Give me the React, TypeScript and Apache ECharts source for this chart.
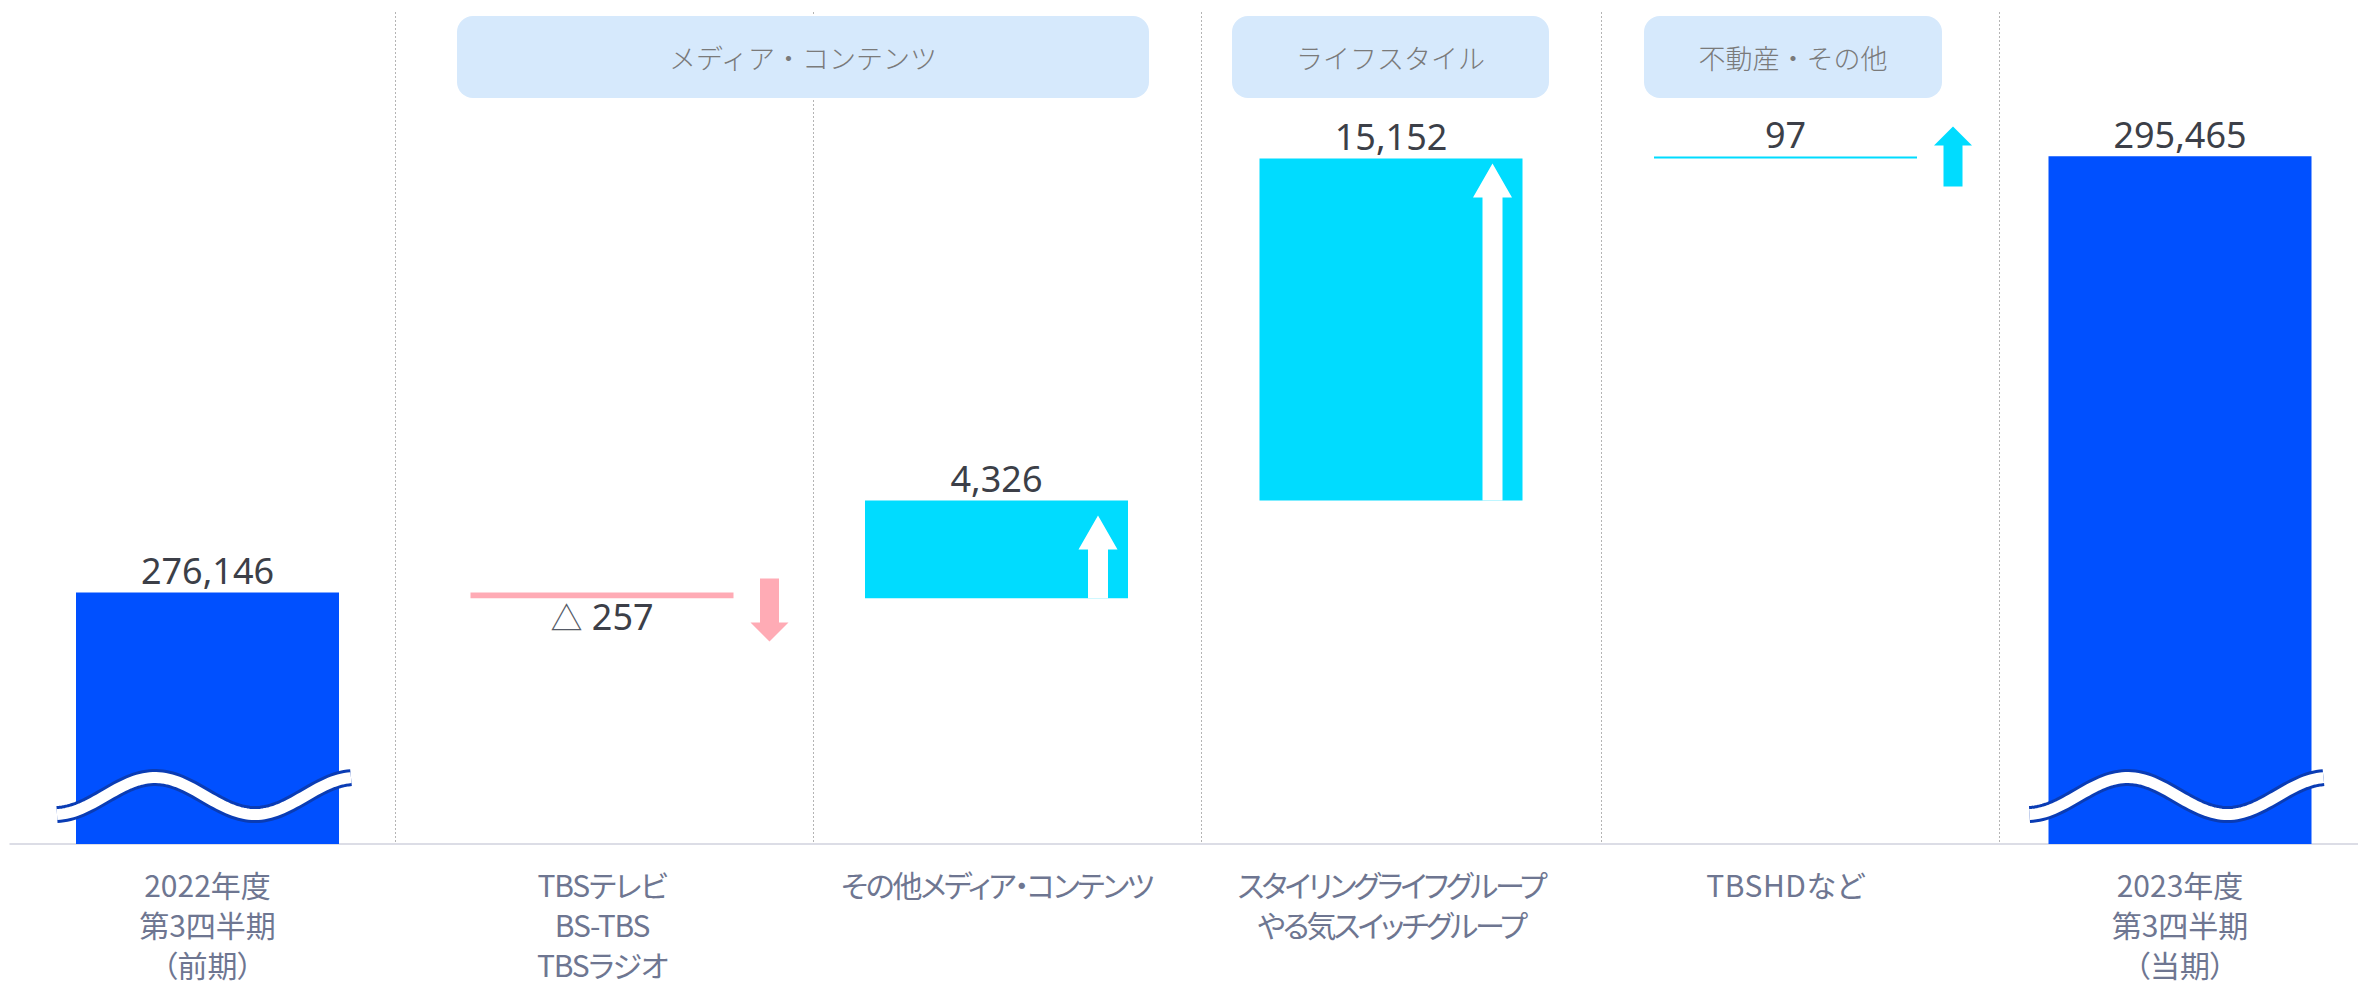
import React, { useEffect, useRef } from 'react';
import * as echarts from 'echarts';

// ---- data ----
const categories = [
  '2022年度\n第3四半期\n（前期）',
  'TBSテレビ\nBS-TBS\nTBSラジオ',
  'その他メディア・コンテンツ',
  'スタイリングライフグループ\nやる気スイッチグループ',
  'TBSHDなど',
  '2023年度\n第3四半期\n（当期）',
];
const totals: (number | null)[] = [276146, null, null, null, null, 295465];
const changes: (number | null)[] = [null, -257, 4326, 15152, 97, null];
const groupHeaders = ['メディア・コンテンツ', 'ライフスタイル', '不動産・その他'];

const Y_MIN = 265000;
const Y_MAX = 300000;

// ---- styles ----
const BAR_W = 263;
const BLUE = '#0050ff';
const CYAN = '#00dcff';
const PINK = '#ffabb5';
const WAVE_EDGE = '#0a3cb4';
const GRID_TOP = 54;
const GRID_H = 790;
const AXIS_Y = GRID_TOP + GRID_H;
const SEP_X = [395.5, 813.5, 1201.5, 1601.5, 1999.5];
const HEADER_BOXES = [
  { x: 457, w: 692 },
  { x: 1232, w: 317 },
  { x: 1644, w: 298 },
];
// per-category letter spacing (px) applied to the axis label texts
const LABEL_SPACING = [0, -1.2, -2.3, -3, 0.5, 0];
const LABEL_LINE_H = 40;

function upArrow(cx: number, tip: number, bottom: number, headW: number, headH: number, shaftW: number) {
  return [
    [cx, tip],
    [cx + headW / 2, tip + headH],
    [cx + shaftW / 2, tip + headH],
    [cx + shaftW / 2, bottom],
    [cx - shaftW / 2, bottom],
    [cx - shaftW / 2, tip + headH],
    [cx - headW / 2, tip + headH],
  ];
}
function downArrow(cx: number, top: number, tip: number, headW: number, headH: number, shaftW: number) {
  return [
    [cx - shaftW / 2, top],
    [cx + shaftW / 2, top],
    [cx + shaftW / 2, tip - headH],
    [cx + headW / 2, tip - headH],
    [cx, tip],
    [cx - headW / 2, tip - headH],
    [cx - shaftW / 2, tip - headH],
  ];
}

export default function App() {
  const ref = useRef<HTMLDivElement>(null);

  useEffect(() => {
    if (!ref.current) return;
    const chart = echarts.init(ref.current, null, { renderer: 'svg' });

    const base: (number | string)[] = [];
    const totalData: (number | string)[] = [];
    const up: (number | string)[] = [];
    const down: (number | string)[] = [];
    const arrows: number[][] = [];
    const waves: number[][] = [];
    let run = 0;
    categories.forEach((_, i) => {
      const t = totals[i];
      if (t != null) {
        run = t;
        base.push(0);
        totalData.push(t);
        up.push('-');
        down.push('-');
        waves.push([i, Y_MIN]);
      } else {
        const c = changes[i] as number;
        const start = run;
        const end = run + c;
        base.push(Math.min(start, end));
        totalData.push('-');
        up.push(c > 0 ? c : '-');
        down.push(c < 0 ? -c : '-');
        arrows.push([i, start, end]);
        run = end;
      }
    });

    const valueLabel = {
      show: true,
      position: 'top',
      distance: 4,
      fontSize: 36,
      fontFamily: "'Noto Sans', sans-serif",
      color: '#3c3f48',
      formatter: (p: any) => Number(p.value).toLocaleString('en-US'),
    };

    const richLabels: any = {};
    categories.forEach((_, i) => {
      richLabels['c' + i] = {
        fontSize: 30,
        lineHeight: LABEL_LINE_H,
        color: '#6e7691',
        fontFamily: `'Noto Sans CJK JP', 'lsp${i}'`,
      };
    });

    const option: any = {
      animation: false,
      backgroundColor: '#ffffff',
      grid: {
        left: 10.25,
        top: GRID_TOP,
        width: 2367,
        height: GRID_H,
        containLabel: false,
        outerBoundsMode: 'none',
      },
      xAxis: {
        type: 'category',
        data: categories,
        axisTick: { show: false },
        axisLine: { show: true, lineStyle: { color: '#dcdde6', width: 2 } },
        axisLabel: {
          interval: 0,
          margin: 20,
          fontSize: 30,
          lineHeight: LABEL_LINE_H,
          color: '#6e7691',
          fontFamily: "'Noto Sans CJK JP', sans-serif",
          formatter: (v: string, i: number) =>
            v
              .split('\n')
              .map((line) => `{c${i}|${line}}`)
              .join('\n'),
          rich: richLabels,
        },
        splitLine: { show: false },
      },
      yAxis: {
        type: 'value',
        min: Y_MIN,
        max: Y_MAX,
        show: false,
        splitLine: { show: false },
      },
      series: [
        {
          name: 'base',
          type: 'bar',
          stack: 'wf',
          barWidth: BAR_W,
          silent: true,
          itemStyle: { color: 'rgba(0,0,0,0)' },
          data: base,
        },
        {
          name: 'total',
          type: 'bar',
          stack: 'wf',
          barWidth: BAR_W,
          itemStyle: { color: BLUE },
          label: valueLabel,
          data: totalData,
        },
        {
          name: 'up',
          type: 'bar',
          stack: 'wf',
          barWidth: BAR_W,
          itemStyle: { color: CYAN },
          label: valueLabel,
          data: up,
        },
        {
          name: 'down',
          type: 'bar',
          stack: 'wf',
          barWidth: BAR_W,
          itemStyle: { color: PINK },
          label: {
            ...valueLabel,
            position: 'bottom',
            distance: 0,
            formatter: (p: any) => '{t|△} ' + Number(p.value).toLocaleString('en-US'),
            rich: {
              t: { fontSize: 32, color: '#555a66', fontFamily: "'Noto Sans CJK KR'" },
            },
          },
          data: down,
        },
        {
          name: 'arrows',
          type: 'custom',
          z: 5,
          silent: true,
          encode: { x: 0, y: [1, 2] },
          data: arrows,
          renderItem: (params: any, api: any) => {
            const cat = api.value(0);
            const s = api.value(1);
            const e = api.value(2);
            const ps = api.coord([cat, s]);
            const pe = api.coord([cat, e]);
            const right = ps[0] + BAR_W / 2;
            const top = Math.min(ps[1], pe[1]);
            const bottom = Math.max(ps[1], pe[1]);
            const h = bottom - top;
            let pts: number[][];
            let fill: string;
            if (e < s) {
              const t = top - 14;
              pts = downArrow(right + 36, t, t + 63, 38, 19, 19);
              fill = PINK;
            } else if (h > 40) {
              const tip = top + (h < 150 ? 15 : 5);
              pts = upArrow(right - 30, tip, bottom, 39, 34, 20);
              fill = '#ffffff';
            } else {
              const tip = top - 30;
              pts = upArrow(right + 36, tip, tip + 60, 38, 19, 19);
              fill = CYAN;
            }
            return { type: 'polygon', shape: { points: pts }, style: { fill } };
          },
        },
        {
          name: 'waves',
          type: 'custom',
          z: 6,
          silent: true,
          encode: { x: 0, y: 1 },
          data: waves,
          renderItem: (params: any, api: any) => {
            const p = api.coord([api.value(0), api.value(1)]);
            const left = p[0] - BAR_W / 2;
            const mid = p[1] - 48;
            const peak = left + 79;
            const pts: number[][] = [];
            for (let x = left - 19; x <= left + 277.01; x += 3) {
              pts.push([x, mid - 18.5 * Math.cos((2 * Math.PI * (x - peak)) / 200)]);
            }
            return {
              type: 'group',
              children: [
                { type: 'polyline', shape: { points: pts }, style: { stroke: WAVE_EDGE, lineWidth: 17, fill: null, lineCap: 'butt' } },
                { type: 'polyline', shape: { points: pts }, style: { stroke: '#ffffff', lineWidth: 11, fill: null, lineCap: 'butt' } },
              ],
            };
          },
        },
      ],
      graphic: [
        ...SEP_X.map((x) => ({
          type: 'line',
          z: 0,
          silent: true,
          shape: { x1: x, y1: 12, x2: x, y2: AXIS_Y },
          style: { stroke: '#b4b4b4', lineWidth: 1, lineDash: [2, 2] },
        })),
        ...HEADER_BOXES.map((b, i) => ({
          type: 'group',
          z: 10,
          silent: true,
          children: [
            {
              type: 'rect',
              shape: { x: b.x, y: 16, width: b.w, height: 82, r: 16 },
              style: { fill: '#d6e9fc' },
            },
            {
              type: 'text',
              style: {
                text: groupHeaders[i],
                x: b.x + b.w / 2,
                y: 57,
                align: 'center',
                verticalAlign: 'middle',
                fill: '#7a7a7a',
                fontSize: 27,
                fontWeight: 300,
                fontFamily: "'Noto Sans CJK KR'",
              },
            },
          ],
        })),
      ],
    };

    chart.setOption(option);
    return () => chart.dispose();
  }, []);

  const css =
    `.wfchart text[style*="CJK JP"] { font-feature-settings: "palt"; }\n` +
    LABEL_SPACING.map((s, i) => `.wfchart text[style*="lsp${i}"] { letter-spacing: ${s}px; }`).join('\n');

  return (
    <div style={{ position: 'absolute', left: 0, top: 0, width: 2358, height: 986, background: '#fff' }}>
      <style>{css}</style>
      <div className="wfchart" ref={ref} style={{ width: 2358, height: 986 }} />
    </div>
  );
}
